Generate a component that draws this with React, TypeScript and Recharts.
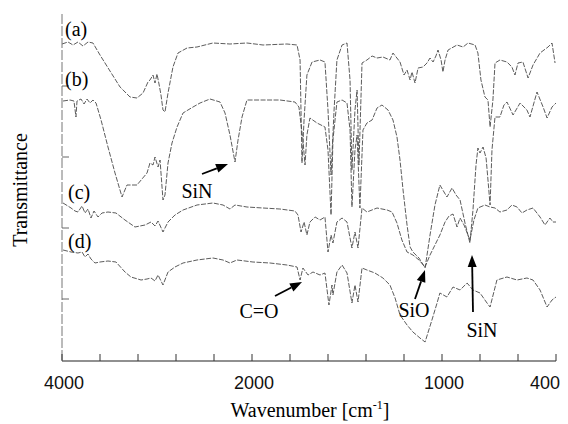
import { LineChart, Line, XAxis, YAxis } from 'recharts';

// wavenumber ticks (cm-1); above 2000 the axis runs at half scale
const waveTicks = [4000, 3600, 3200, 2800, 2400, 2000, 1800, 1600, 1400, 1200, 1000, 800, 600, 400];
const waveLabels = [4000, 2000, 1000, 400];
const transTicks = [62, 133, 204, 275];

// [wavenumber, transmittance (arb. units, offset per spectrum)]
const specA: [number, number][] = [
  [4000, 317], [3937, 319], [3884, 316], [3832, 319], [3779, 315], [3726, 319], [3674, 318],
  [3600, 306], [3495, 290], [3389, 274], [3284, 264], [3211, 263], [3147, 268], [3095, 279],
  [3074, 281], [3042, 286], [3021, 278], [3000, 287], [2979, 277], [2958, 266], [2937, 251],
  [2916, 249], [2884, 268], [2832, 294], [2779, 308], [2684, 313], [2579, 314], [2411, 318],
  [2232, 317], [2053, 318], [1942, 316], [1816, 317], [1763, 316], [1747, 301], [1737, 198],
  [1726, 241], [1711, 286], [1684, 299], [1642, 301], [1616, 299], [1600, 251], [1584, 186],
  [1568, 251], [1553, 301], [1526, 316], [1500, 318], [1484, 281], [1474, 191], [1458, 251],
  [1447, 271], [1437, 196], [1421, 298], [1395, 301], [1368, 305], [1342, 303], [1311, 304],
  [1274, 301], [1258, 308], [1221, 299], [1200, 286], [1184, 291], [1168, 281], [1158, 289],
  [1142, 278], [1126, 293], [1100, 294], [1079, 298], [1063, 303], [1047, 299], [1032, 305],
  [1021, 311], [1005, 301], [995, 289], [984, 301], [968, 311], [921, 316], [889, 314],
  [863, 318], [826, 316], [811, 308], [795, 281], [774, 264], [758, 261], [747, 234],
  [732, 261], [721, 298], [695, 301], [658, 299], [632, 294], [616, 286], [600, 298],
  [574, 299], [547, 283], [521, 296], [484, 308], [442, 314], [421, 318], [405, 298],
];

const specB: [number, number][] = [
  [3989, 260], [3916, 261], [3874, 260], [3853, 244], [3842, 260], [3800, 262], [3768, 257],
  [3737, 262], [3705, 258], [3674, 261], [3642, 258], [3589, 241], [3516, 214], [3442, 188],
  [3368, 164], [3316, 176], [3211, 176], [3105, 188], [3074, 198], [3042, 196], [3021, 204],
  [2989, 194], [2968, 201], [2937, 161], [2916, 166], [2884, 198], [2842, 218], [2789, 234],
  [2726, 248], [2621, 254], [2547, 258], [2442, 262], [2337, 259], [2284, 248], [2232, 226],
  [2179, 199], [2147, 221], [2105, 244], [2053, 261], [1942, 261], [1853, 261], [1774, 259],
  [1753, 254], [1732, 221], [1721, 196], [1711, 226], [1695, 243], [1658, 238], [1616, 234],
  [1600, 211], [1584, 146], [1574, 221], [1553, 259], [1526, 261], [1500, 258], [1484, 231],
  [1474, 154], [1458, 211], [1447, 226], [1432, 153], [1416, 231], [1395, 238], [1368, 241],
  [1342, 253], [1316, 256], [1284, 251], [1258, 241], [1237, 224], [1221, 201], [1205, 171],
  [1184, 136], [1168, 114], [1153, 109], [1121, 103], [1089, 93], [1063, 126], [1037, 156],
  [1011, 176], [974, 164], [947, 173], [926, 166], [905, 161], [879, 138], [853, 118],
  [837, 151], [821, 196], [811, 213], [800, 208], [784, 214], [768, 203], [758, 181],
  [747, 156], [737, 211], [721, 244], [695, 244], [674, 256], [658, 259], [626, 246],
  [589, 258], [553, 251], [537, 244], [500, 269], [468, 254], [447, 243], [421, 254], [400, 258],
];

const specC: [number, number][] = [
  [3989, 158], [3905, 153], [3863, 150], [3832, 149], [3789, 155], [3758, 148], [3726, 152],
  [3695, 143], [3663, 150], [3621, 144], [3579, 148], [3516, 149], [3432, 148], [3337, 141],
  [3232, 134], [3126, 136], [3063, 139], [3021, 135], [2989, 140], [2937, 129], [2884, 139],
  [2811, 146], [2726, 151], [2579, 156], [2411, 158], [2305, 156], [2232, 152], [2179, 156],
  [2053, 154], [1942, 153], [1853, 152], [1774, 150], [1758, 146], [1742, 129], [1726, 139],
  [1711, 126], [1695, 139], [1668, 144], [1642, 141], [1616, 144], [1600, 109], [1584, 126],
  [1574, 118], [1553, 139], [1526, 143], [1500, 139], [1474, 113], [1458, 129], [1442, 113],
  [1421, 153], [1395, 149], [1342, 153], [1289, 151], [1263, 149], [1237, 138], [1211, 121],
  [1184, 109], [1153, 106], [1121, 101], [1089, 94], [1063, 106], [1037, 116], [1011, 126],
  [984, 139], [963, 145], [942, 147], [921, 134], [905, 143], [884, 136], [853, 121],
  [832, 141], [811, 153], [774, 156], [747, 154], [721, 153], [695, 149], [658, 151],
  [632, 156], [605, 154], [579, 148], [553, 151], [521, 153], [484, 144], [458, 136],
  [432, 143], [416, 139], [400, 139],
];

const specD: [number, number][] = [
  [3989, 111], [3905, 109], [3832, 108], [3789, 109], [3758, 104], [3726, 107], [3695, 102],
  [3653, 98], [3600, 99], [3516, 100], [3432, 99], [3337, 89], [3274, 84], [3168, 81],
  [3105, 82], [3063, 83], [3021, 80], [2989, 86], [2937, 76], [2884, 89], [2811, 94],
  [2726, 98], [2579, 101], [2411, 103], [2305, 101], [2232, 98], [2158, 101], [1995, 99],
  [1905, 98], [1816, 96], [1763, 94], [1747, 81], [1732, 93], [1705, 86], [1679, 89],
  [1642, 86], [1616, 88], [1595, 56], [1579, 76], [1574, 66], [1553, 89], [1526, 96],
  [1500, 88], [1474, 58], [1458, 76], [1442, 59], [1421, 93], [1395, 91], [1353, 88],
  [1311, 83], [1274, 76], [1247, 63], [1221, 46], [1184, 36], [1153, 29], [1116, 23],
  [1089, 19], [1053, 41], [1026, 58], [1011, 68], [974, 64], [942, 74], [905, 71],
  [868, 78], [837, 71], [800, 68], [763, 58], [747, 54], [711, 81], [658, 84], [605, 81],
  [553, 83], [521, 81], [484, 71], [447, 54], [421, 61], [400, 64],
];

const toT = (wn: number) => (wn >= 2000 ? (4000 - wn) / 400 : 5 + (2000 - wn) / 200);
const rows = (s: [number, number][]) => s.map(([wn, v]) => ({ t: toT(wn), v }));
const tTicks = waveTicks.map(toT);

const serif = "'Liberation Serif', 'Times New Roman', serif";
const sans = "'Liberation Sans', Arial, sans-serif";
const lineStroke = '#4a4a4a';

function XTick(props: any) {
  const { x, y, payload } = props;
  const wn = waveTicks[tTicks.indexOf(payload.value)];
  const last = wn === 400;
  return (
    <g>
      <line x1={x} y1={y} x2={x} y2={y - 7} stroke="#333" strokeWidth={1} />
      {waveLabels.includes(wn) && (
        <text
          x={last ? x + 4 : x + 2}
          y={y + 28}
          textAnchor={last ? 'end' : 'middle'}
          style={{ fontFamily: sans, fontSize: 18 }}
          fill="#111"
        >
          {wn}
        </text>
      )}
    </g>
  );
}

function YTick(props: any) {
  const { x, y } = props;
  return <line x1={x} y1={y} x2={x + 7} y2={y} stroke="#666" strokeWidth={1} />;
}

function Arrow({ x1, y1, x2, y2 }: { x1: number; y1: number; x2: number; y2: number }) {
  const a = Math.atan2(y2 - y1, x2 - x1);
  const L = 12;
  const W = 4.5;
  const bx = x2 - L * Math.cos(a);
  const by = y2 - L * Math.sin(a);
  const px = -Math.sin(a) * W;
  const py = Math.cos(a) * W;
  return (
    <g>
      <line x1={x1} y1={y1} x2={bx} y2={by} stroke="#000" strokeWidth={1.8} />
      <polygon points={`${x2},${y2} ${bx + px},${by + py} ${bx - px},${by - py}`} fill="#000" />
    </g>
  );
}

export default function App() {
  const series = [specA, specB, specC, specD];
  const label = { fontFamily: serif, fontSize: 20 };
  return (
    <div style={{ position: 'absolute', left: 0, top: 0, width: 568, height: 424, background: '#fff' }}>
      <LineChart width={568} height={424} margin={{ top: 14, right: 12, left: 0, bottom: 0 }}>
        <XAxis
          dataKey="t"
          type="number"
          domain={[0, 13]}
          ticks={tTicks}
          interval={0}
          height={63}
          tickSize={0}
          tickMargin={0}
          tickLine={false}
          tick={<XTick />}
          axisLine={{ stroke: '#222', strokeWidth: 1.2 }}
          allowDataOverflow
        />
        <XAxis
          xAxisId="top"
          orientation="top"
          type="number"
          domain={[0, 13]}
          height={0}
          tick={false}
          tickLine={false}
          axisLine={{ stroke: '#999', strokeDasharray: '8 3' }}
        />
        <YAxis
          type="number"
          domain={[0, 347]}
          ticks={transTicks}
          width={62}
          tickSize={0}
          tickMargin={0}
          tickLine={false}
          tick={<YTick />}
          axisLine={{ stroke: '#777', strokeDasharray: '10 2' }}
        />
        <YAxis
          yAxisId="right"
          orientation="right"
          type="number"
          domain={[0, 347]}
          width={0}
          tick={false}
          tickLine={false}
          axisLine={{ stroke: '#aaa', strokeDasharray: '4 3' }}
        />
        {series.map((s, i) => (
          <Line
            key={i}
            data={rows(s)}
            dataKey="v"
            type="linear"
            stroke={lineStroke}
            strokeWidth={0.9}
            strokeDasharray="5 1.5"
            dot={false}
            isAnimationActive={false}
          />
        ))}
      </LineChart>
      <svg
        width={568}
        height={424}
        style={{ position: 'absolute', left: 0, top: 0, pointerEvents: 'none' }}
      >
        <g fill="#000">
          <text x={65} y={36} style={label}>(a)</text>
          <text x={65} y={86} style={label}>(b)</text>
          <text x={68} y={199} style={label}>(c)</text>
          <text x={68} y={248} style={label}>(d)</text>
          <text x={197} y={198} textAnchor="middle" style={label}>SiN</text>
          <text x={259} y={318} textAnchor="middle" style={label}>C=O</text>
          <text x={414} y={317} textAnchor="middle" style={label}>SiO</text>
          <text x={482} y={337} textAnchor="middle" style={label}>SiN</text>
          <text
            x={22}
            y={190}
            textAnchor="middle"
            transform="rotate(-90 22 190)"
            dominantBaseline="middle"
            style={label}
          >
            Transmittance
          </text>
          <text x={310} y={417} textAnchor="middle" style={label}>
            Wavenumber [cm<tspan style={{ fontSize: 12 }} dy={-8}>-1</tspan>
            <tspan dy={8}>]</tspan>
          </text>
        </g>
        <Arrow x1={202} y1={174} x2={228} y2={164} />
        <Arrow x1={275} y1={296} x2={302} y2={282} />
        <Arrow x1={415} y1={299} x2={425} y2={270} />
        <Arrow x1={473} y1={312} x2={472} y2={255} />
      </svg>
    </div>
  );
}
